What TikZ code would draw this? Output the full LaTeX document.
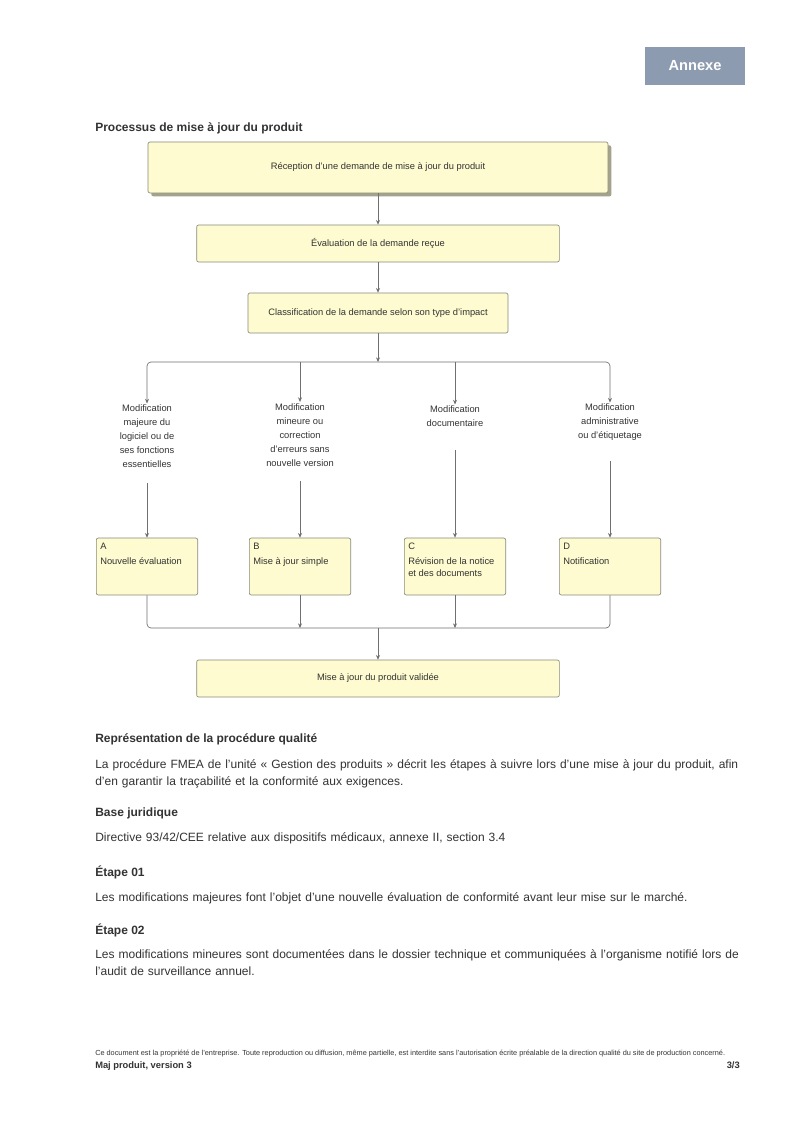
\documentclass[tikz,border=0pt]{standalone}
\usepackage{fontspec}
\setmainfont{Liberation Sans}
\usetikzlibrary{arrows.meta,shadows,calc}
\definecolor{boxfill}{HTML}{FDFBCF}
\definecolor{boxline}{HTML}{8A8A7A}
\definecolor{badgec}{HTML}{8C9BAF}
\definecolor{shadec}{HTML}{A3A38C}
\definecolor{linec}{HTML}{707070}
\definecolor{textc}{HTML}{333333}
\begin{document}
\begin{tikzpicture}[x=0.75pt,y=-0.75pt,
  box/.style={draw=boxline, fill=boxfill, rounded corners=1.5pt, line width=0.5pt,
    font=\fontsize{7}{8.5}\selectfont, text=textc, inner sep=0pt, align=center},
  conn/.style={draw=linec, line width=0.5pt},
  arr/.style={conn, -{Stealth[length=3.5pt,width=3pt]}},
  lab/.style={font=\fontsize{7}{10.5}\selectfont, text=textc, align=center, inner sep=1pt},
  boxtext/.style={font=\fontsize{7}{9}\selectfont, text=textc, align=left, inner sep=0pt, anchor=north west},
  head/.style={font=\bfseries\fontsize{9}{11}\selectfont, text=textc, anchor=base west, inner sep=0pt},
  para/.style={font=\fontsize{9}{12.75}\selectfont, text=textc, anchor=north west, inner sep=0pt, text width=484pt, align=left}]

\useasboundingbox (0,0) rectangle (800,1131);
\fill[white] (0,0) rectangle (800,1131);

% badge
\node[fill=badgec, minimum width=75pt, minimum height=28.5pt, inner sep=0pt,
  text=white, font=\bfseries\fontsize{11}{13}\selectfont] (badge) at (695,66) {Annexe};

% title
\node[head] (title) at (95,131) {Processus de mise à jour du produit};

% main boxes
\node[box, drop shadow={shadow xshift=2.5pt, shadow yshift=-2.5pt, fill=shadec, opacity=1},
  minimum width=345pt, minimum height=38.25pt] (b1) at (378,167.5)
  {Réception d'une demande de mise à jour du produit};
\node[box, minimum width=272pt, minimum height=27.75pt] (b2) at (378,243.5)
  {Évaluation de la demande reçue};
\node[box, minimum width=195pt, minimum height=30pt] (b3) at (378,313)
  {Classification de la demande selon son type d'impact};

\draw[arr] (b1.south) -- (b2.north);
\draw[arr] (b2.south) -- (b3.north);

\coordinate (bus1) at (378,362);
\draw[arr] (b3.south) -- (bus1);

% labels
\node[lab] (l1) at (147,436.5) {Modification\\majeure du\\logiciel ou de\\ses fonctions\\essentielles};
\node[lab] (l2) at (300,435) {Modification\\mineure ou\\correction\\d'erreurs sans\\nouvelle version};
\node[lab] (l3) at (455,416.5) {Modification\\documentaire};
\node[lab] (l4) at (610,422.5) {Modification\\administrative\\ou d'étiquetage};

\draw[arr, rounded corners=3pt] (bus1) -| (l1.north);
\draw[arr, rounded corners=3pt] (bus1) -| (l4.north);
\draw[arr] (l2.north |- bus1) -- (l2.north);
\draw[arr] (l3.north |- bus1) -- (l3.north);

% bottom boxes
\node[box, minimum width=76pt, minimum height=42.75pt] (c1) at (147,566.5) {};
\node[box, minimum width=76pt, minimum height=42.75pt] (c2) at (300,566.5) {};
\node[box, minimum width=76pt, minimum height=42.75pt] (c3) at (455,566.5) {};
\node[box, minimum width=76pt, minimum height=42.75pt] (c4) at (610,566.5) {};

\node[boxtext] (t1) at ([xshift=3pt,yshift=-4pt]c1.north west) {A\\[2pt]Nouvelle évaluation};
\node[boxtext] (t2) at ([xshift=3pt,yshift=-4pt]c2.north west) {B\\[2pt]Mise à jour simple};
\node[boxtext] (t3) at ([xshift=3pt,yshift=-4pt]c3.north west) {C\\[2pt]Révision de la notice\\et des documents};
\node[boxtext] (t4) at ([xshift=3pt,yshift=-4pt]c4.north west) {D\\[2pt]Notification};

\draw[arr, shorten <=10pt] (l1.south) -- (c1.north);
\draw[arr, shorten <=10pt] (l2.south) -- (c2.north);
\draw[arr, shorten <=16pt] (l3.south) -- (c3.north);
\draw[arr, shorten <=14pt] (l4.south) -- (c4.north);

\coordinate (bus2) at (378,628);
\draw[conn, rounded corners=3pt] (c1.south) |- (c4.south |- bus2) -- (c4.south);
\draw[arr] (c2.south) -- (c2.south |- bus2);
\draw[arr] (c3.south) -- (c3.south |- bus2);

\node[box, minimum width=272pt, minimum height=27.75pt] (b4) at (378,678.5)
  {Mise à jour du produit validée};
\draw[arr] (bus2) -- (b4.north);

% text section
\node[head] (h1) at (95,742) {Représentation de la procédure qualité};
\node[para] (p1) at (95,759) {La procédure FMEA de l'unité « Gestion des produits » décrit les étapes à suivre lors d'une mise à jour du produit, afin d'en garantir la traçabilité et la conformité aux exigences.};
\node[head] (h2) at (95,816) {Base juridique};
\node[para] (p2) at (95,832) {Directive 93/42/CEE relative aux dispositifs médicaux, annexe II, section 3.4};
\node[head] (h3) at (95,876) {Étape 01};
\node[para] (p3) at (95,892) {Les modifications majeures font l'objet d'une nouvelle évaluation de conformité avant leur mise sur le marché.};
\node[head] (h4) at (95,934) {Étape 02};
\node[para] (p4) at (95,949) {Les modifications mineures sont documentées dans le dossier technique et communiquées à l'organisme notifié lors de l'audit de surveillance annuel.};

% footer
\node[font=\fontsize{5.5}{6.5}\selectfont, text=textc, anchor=base west, inner sep=0pt] (f1) at (95,1055)
  {Ce document est la propriété de l'entreprise. Toute reproduction ou diffusion, même partielle, est interdite sans l'autorisation écrite préalable de la direction qualité du site de production concerné.};
\node[font=\bfseries\fontsize{7}{8}\selectfont, text=textc, anchor=base west, inner sep=0pt] (f2) at (95,1068) {Maj produit, version 3};
\node[font=\bfseries\fontsize{7}{8}\selectfont, text=textc, anchor=base east, inner sep=0pt] (f3) at (740,1068) {3/3};
\end{tikzpicture}
\end{document}
